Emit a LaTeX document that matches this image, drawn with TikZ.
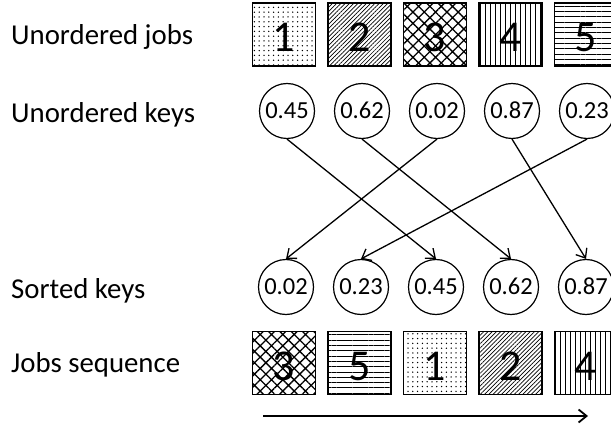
\documentclass[tikz,border=0pt]{standalone}
\usepackage{fontspec}
\setmainfont{Carlito}
\usepackage{tikz}
\usetikzlibrary{positioning,patterns.meta,arrows.meta}
\tikzstyle{job} = [draw=black, line width=1.7pt, minimum size=63pt, inner sep=0pt, text height=35pt, text depth=0pt, font=\fontsize{44}{44}\selectfont]
\tikzstyle{key} = [circle, draw=black, line width=1.2pt, minimum size=55pt, inner sep=0pt, text height=15pt, text depth=0pt, font=\fontsize{24.5}{24.5}\selectfont]
\tikzstyle{lbl} = [anchor=base west, inner sep=0pt, font=\fontsize{28.8}{28.8}\selectfont]
\tikzstyle{arrow} = [line width=1.3pt,-{Straight Barb[length=8pt,width=13pt]}]
\tikzstyle{pdots} = [pattern={Dots[distance=4.8pt,radius=0.75pt]}]
\tikzstyle{pdiag} = [pattern={Lines[angle=45,distance=3pt,line width=0.7pt]}]
\tikzstyle{pcross} = [pattern={Hatch[angle=45,distance=8pt,line width=1.3pt]}]
\tikzstyle{pvert} = [pattern={Lines[angle=90,distance=5pt,line width=0.9pt]}]
\tikzstyle{phor} = [pattern={Lines[angle=0,distance=5.3pt,line width=0.9pt]}]

\begin{document}
\begin{tikzpicture}[x=1pt, y=-1pt]
    \clip (0,0) rectangle (611,425);
    \node[lbl] (l1) at (11,45) {Unordered jobs};
    \node[lbl] (l2) at (11,123) {Unordered keys};
    \node[lbl] (l3) at (11,298) {Sorted keys};
    \node[lbl] (l4) at (11,372) {Jobs sequence};
    % unordered jobs
    \node[job, pdots] (j1) at (284,34.5) {1}; \node[job, pdiag] (j2) at (359.5,34.5) {2}; \node[job, pcross] (j3) at (435,34.5) {3};
    \node[job, pvert] (j4) at (510.5,34.5) {4}; \node[job, phor] (j5) at (586,34.5) {5};
    % unordered keys
    \node[key] (k1) at (287,111) {0.45}; \node[key] (k2) at (362,111) {0.62}; \node[key] (k3) at (437,111) {0.02};
    \node[key] (k4) at (512,111) {0.87}; \node[key] (k5) at (587,111) {0.23};
    % sorted keys
    \node[key] (s1) at (286,287) {0.02}; \node[key] (s2) at (361,287) {0.23}; \node[key] (s3) at (436,287) {0.45};
    \node[key] (s4) at (511,287) {0.62}; \node[key] (s5) at (586,287) {0.87};
    % jobs sequence
    \node[job, pcross] (q3) at (284,363) {3}; \node[job, phor] (q5) at (359.5,363) {5}; \node[job, pdots] (q1) at (435,363) {1};
    \node[job, pdiag] (q2) at (510.5,363) {2}; \node[job, pvert] (q4) at (586,363) {4};
    \draw[arrow] (k1.south) -- (s3.north);
    \draw[arrow] (k2.south) -- (s4.north);
    \draw[arrow] (k3.south) -- (s1.north);
    \draw[arrow] (k4.south) -- (s5.north);
    \draw[arrow] (k5.south) -- (s2.north);
    \coordinate (t0) at (263,416); \coordinate (t1) at (588,416);
    \draw[arrow, line width=1.8pt] (t0) -- (t1);
\end{tikzpicture}
\end{document}
